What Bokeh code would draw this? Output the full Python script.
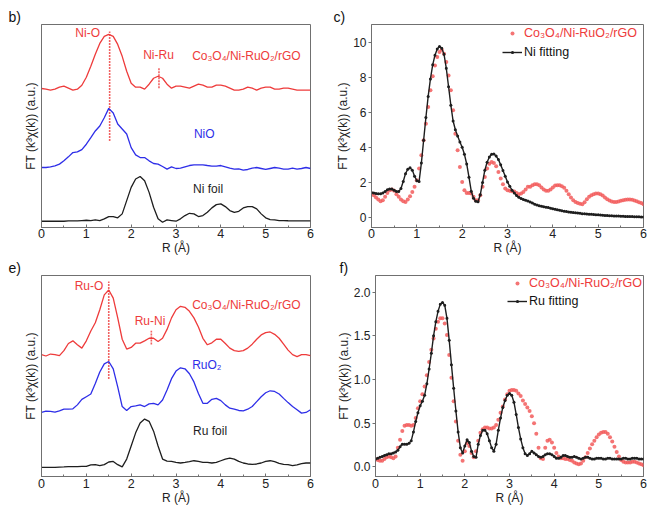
from bokeh.plotting import figure
from bokeh.layouts import row, column
from bokeh.models import Range1d, FixedTicker, Label, Legend, LegendItem, NumeralTickFormatter
from bokeh.embed import file_html
from bokeh.resources import INLINE

# ---------------- data ----------------
r_grid_10 = [round(0.1 * i, 1) for i in range(61)]     # R (Å) 0..6 step 0.1
r_grid_05 = [round(0.05 * i, 2) for i in range(121)]   # R (Å) 0..6 step 0.05

# panel b (Ni K-edge, stacked, a.u.)
ni_composite = [13.97, 13.9, 13.8, 13.9, 14.1, 14.2, 14.0, 13.8, 13.9, 14.3,
                15.1, 16.2, 17.4, 18.5, 19.2, 19.4, 19.2, 18.4, 17.2, 15.7,
                14.5, 14.1, 14.1, 13.9, 14.4, 15.0, 15.2, 15.0, 14.4, 14.0,
                14.2, 14.2, 14.1, 14.0, 14.2, 14.4, 14.3, 14.1, 14.1, 14.3,
                14.3, 14.2, 14.0, 13.8, 13.8, 13.9, 14.1, 14.0, 13.8, 14.0,
                14.1, 14.1, 13.9, 13.9, 14.0, 14.0, 13.9, 13.8, 13.8, 13.8,
                13.8]
nio = [6.03, 6.03, 6.1, 6.2, 6.37, 6.7, 7.1, 7.53, 7.6, 7.83,
       8.37, 9.03, 9.7, 10.2, 11.03, 11.97, 11.5, 10.4, 9.9, 9.4,
       8.03, 7.3, 7.03, 7.03, 6.7, 6.43, 6.37, 6.13, 5.87, 6.1,
       5.93, 5.97, 6.1, 6.23, 6.3, 6.3, 6.3, 6.23, 6.17, 6.17,
       6.23, 6.1, 5.97, 5.87, 5.9, 5.77, 5.83, 5.97, 6.03, 5.93,
       5.83, 5.93, 6.03, 5.97, 5.87, 5.87, 5.97, 5.87, 5.93, 6.03,
       5.93]
ni_foil = [0.63, 0.63, 0.63, 0.63, 0.63, 0.63, 0.67, 0.67, 0.67, 0.70,
           0.73, 0.70, 0.77, 0.70, 0.87, 1.10, 1.10, 0.97, 1.37, 2.70,
           4.03, 4.87, 5.13, 4.70, 3.53, 2.03, 0.87, 0.53, 0.77, 0.70,
           0.63, 0.87, 1.20, 1.43, 1.37, 1.10, 1.20, 1.53, 1.97, 2.30,
           2.37, 2.10, 1.70, 1.53, 1.63, 1.97, 2.10, 2.10, 1.87, 1.37,
           0.97, 0.80, 0.77, 0.70, 0.70, 0.68, 0.67, 0.67, 0.67, 0.67,
           0.67]
b_peak_r = [1.52, 2.62]
b_peak_lo = [8.7, 14.0]
b_peak_hi = [19.7, 16.1]

# panel e (Ru K-edge, stacked, a.u.)
ru_composite = [12.37, 12.23, 12.43, 12.37, 12.27, 12.77, 13.5, 13.77, 13.37, 13.03,
                13.77, 14.77, 15.6, 16.93, 18.43, 18.93, 18.1, 16.1, 13.93, 12.93,
                13.1, 13.53, 13.53, 13.77, 14.03, 14.03, 13.7, 14.03, 14.93, 16.1,
                16.93, 17.27, 17.17, 16.77, 16.1, 15.17, 14.03, 13.37, 13.57, 13.93,
                13.93, 13.5, 13.03, 12.77, 12.7, 12.77, 13.03, 13.43, 13.93, 14.37,
                14.6, 14.67, 14.43, 14.03, 13.43, 12.83, 12.37, 12.17, 12.37, 12.37,
                12.27]
ruo2 = [6.5, 6.63, 6.6, 6.53, 6.67, 6.83, 6.83, 6.87, 7.27, 7.83,
        8.1, 8.37, 9.43, 10.6, 11.43, 11.67, 10.93, 9.1, 7.1, 6.7,
        7.1, 7.17, 7.27, 7.1, 7.37, 7.43, 7.27, 7.77, 8.77, 9.93,
        10.7, 11.03, 10.93, 10.43, 9.6, 8.43, 7.43, 7.43, 7.83, 7.93,
        7.7, 7.27, 6.93, 6.83, 6.7, 6.67, 6.83, 7.1, 7.6, 8.1,
        8.5, 8.7, 8.63, 8.37, 7.93, 7.5, 7.1, 6.77, 6.43, 6.5,
        6.77]
ru_foil = [0.93, 0.93, 0.93, 0.93, 0.95, 0.97, 1.0, 1.0, 1.0, 1.03,
           1.03, 1.17, 1.2, 1.1, 1.2, 1.47, 1.53, 1.2, 0.97, 1.77,
           3.1, 4.43, 5.43, 5.83, 5.6, 4.6, 3.1, 1.77, 1.57, 1.53,
           1.43, 1.37, 1.43, 1.5, 1.6, 1.53, 1.43, 1.43, 1.37, 1.43,
           1.6, 1.77, 1.87, 1.77, 1.53, 1.37, 1.27, 1.23, 1.27, 1.37,
           1.53, 1.6, 1.5, 1.33, 1.23, 1.2, 1.1, 1.17, 1.3, 1.37,
           1.37]
e_peak_r = [1.5, 2.45]
e_peak_lo = [9.9, 13.4]
e_peak_hi = [19.8, 14.8]

# panel c (Ni, data vs fit)
c_data = [1.37, 1.27, 1.14, 1.02, 0.93, 0.99, 1.18, 1.40, 1.56, 1.59,
          1.52, 1.33, 1.18, 1.02, 0.93, 0.89, 1.02, 1.21, 1.46, 1.75,
          2.13, 2.79, 3.55, 4.40, 5.35, 6.30, 7.25, 8.05, 8.67, 9.15,
          9.43, 9.56, 9.34, 8.86, 8.10, 7.25, 6.11, 4.78, 3.83, 2.88,
          2.03, 1.56, 1.40, 1.40, 1.37, 1.18, 0.99, 0.99, 1.27, 1.75,
          2.31, 2.79, 3.07, 3.17, 3.11, 2.92, 2.60, 2.22, 1.90, 1.65,
          1.56, 1.52, 1.50, 1.48, 1.40, 1.33, 1.37, 1.46, 1.59, 1.75,
          1.75, 1.84, 1.90, 1.90, 1.84, 1.71, 1.59, 1.52, 1.52, 1.59,
          1.71, 1.82, 1.84, 1.84, 1.78, 1.69, 1.52, 1.33, 1.14, 0.99,
          0.89, 0.82, 0.78, 0.76, 0.87, 1.04, 1.18, 1.27, 1.33, 1.37,
          1.37, 1.33, 1.25, 1.14, 1.04, 0.97, 0.91, 0.89, 0.89, 0.91,
          0.95, 0.99, 1.01, 1.02, 1.02, 1.01, 0.97, 0.93, 0.87, 0.82,
          0.76]
c_fit = [1.42, 1.40, 1.37, 1.35, 1.35, 1.40, 1.48, 1.58, 1.63, 1.62,
         1.56, 1.48, 1.48, 1.65, 2.05, 2.50, 2.75, 2.83, 2.70, 2.35,
         2.10, 2.05, 3.10, 4.40, 5.70, 6.90, 7.90, 8.70, 9.25, 9.60,
         9.75, 9.65, 9.30, 8.50, 7.45, 6.40, 5.50, 5.00, 4.65, 4.30,
         4.00, 3.60, 3.05, 2.30, 1.50, 1.10, 0.92, 0.90, 1.30, 2.00,
         2.70, 3.15, 3.45, 3.60, 3.62, 3.50, 3.30, 3.00, 2.68, 2.35,
         2.02, 1.78, 1.56, 1.40, 1.25, 1.15, 1.08, 1.03, 0.99, 0.94,
         0.89, 0.82, 0.76, 0.71, 0.67, 0.64, 0.61, 0.59, 0.57, 0.53,
         0.50, 0.47, 0.44, 0.41, 0.39, 0.36, 0.34, 0.32, 0.30, 0.28,
         0.27, 0.25, 0.24, 0.22, 0.21, 0.20, 0.19, 0.18, 0.17, 0.16,
         0.15, 0.14, 0.13, 0.12, 0.11, 0.10, 0.10, 0.09, 0.08, 0.08,
         0.07, 0.07, 0.06, 0.06, 0.05, 0.05, 0.04, 0.04, 0.04, 0.03,
         0.03]

# panel f (Ru, data vs fit)
f_data = [0.09, 0.08, 0.07, 0.07, 0.09, 0.11, 0.12, 0.11, 0.10, 0.12,
          0.22, 0.31, 0.41, 0.47, 0.48, 0.48, 0.47, 0.48, 0.56, 0.67,
          0.75, 0.83, 0.92, 1.05, 1.20, 1.34, 1.47, 1.58, 1.66, 1.70,
          1.70, 1.64, 1.51, 1.28, 1.02, 0.75, 0.52, 0.30, 0.14, 0.07,
          0.18, 0.27, 0.24, 0.16, 0.11, 0.18, 0.30, 0.39, 0.43, 0.45,
          0.45, 0.44, 0.44, 0.45, 0.48, 0.54, 0.62, 0.69, 0.77, 0.83,
          0.87, 0.88, 0.88, 0.87, 0.84, 0.81, 0.76, 0.72, 0.68, 0.64,
          0.58, 0.50, 0.38, 0.22, 0.10, 0.09, 0.22, 0.30, 0.31, 0.28,
          0.22, 0.16, 0.12, 0.10, 0.10, 0.09, 0.09, 0.08, 0.07, 0.05,
          0.04, 0.03, 0.04, 0.07, 0.11, 0.16, 0.21, 0.26, 0.30, 0.34,
          0.37, 0.39, 0.40, 0.40, 0.38, 0.34, 0.29, 0.23, 0.17, 0.12,
          0.08, 0.06, 0.05, 0.05, 0.05, 0.06, 0.06, 0.05, 0.04, 0.03,
          0.02]
f_fit = [0.09, 0.10, 0.11, 0.12, 0.13, 0.14, 0.15, 0.15, 0.16, 0.17,
         0.19, 0.23, 0.26, 0.26, 0.26, 0.27, 0.30, 0.40, 0.52, 0.62,
         0.70, 0.75, 0.82, 0.95, 1.12, 1.30, 1.50, 1.66, 1.78, 1.86,
         1.88, 1.85, 1.70, 1.45, 1.17, 0.90, 0.64, 0.40, 0.22, 0.16,
         0.24, 0.31, 0.28, 0.18, 0.12, 0.11, 0.26, 0.36, 0.42, 0.42,
         0.38, 0.30, 0.22, 0.18, 0.26, 0.42, 0.56, 0.68, 0.76, 0.82,
         0.84, 0.82, 0.74, 0.60, 0.45, 0.32, 0.22, 0.15, 0.13, 0.15,
         0.18, 0.16, 0.14, 0.12, 0.11, 0.12, 0.14, 0.15, 0.15, 0.14,
         0.12, 0.10, 0.10, 0.11, 0.13, 0.13, 0.12, 0.11, 0.11, 0.12,
         0.11, 0.10, 0.09, 0.10, 0.11, 0.11, 0.10, 0.09, 0.09, 0.10,
         0.10, 0.10, 0.09, 0.09, 0.10, 0.10, 0.09, 0.09, 0.09, 0.09,
         0.09, 0.10, 0.10, 0.09, 0.09, 0.10, 0.10, 0.10, 0.09, 0.09,
         0.09]

x_ticks = [0, 1, 2, 3, 4, 5, 6]
x_minor = [0.5, 1.5, 2.5, 3.5, 4.5, 5.5]
c_yticks = [0, 2, 4, 6, 8, 10]
f_yticks = [0.0, 0.5, 1.0, 1.5, 2.0]

# ---------------- styling ----------------
FONT = "Liberation Sans"
RED = "#ee3b3b"
DOT_RED = "#f25c5c"
BLUE = "#2e2ee8"
BLACK = "#1e1e1e"
AXIS = "#707070"
SAMPLE = "Co\u2083O\u2084/Ni-RuO\u2082/rGO"
YLABEL = "FT (k\u00b3\u03c7(k)) (a.u.)"


def base_fig(width, height, yr, borders, yticks, letter, letter_offset, tick_standoff=2):
    left, right, top, bottom = borders
    p = figure(width=width, height=height, x_range=Range1d(0, 6), y_range=Range1d(*yr),
               output_backend="svg", toolbar_location=None,
               min_border_left=left, min_border_right=right,
               min_border_top=top, min_border_bottom=bottom)
    p.title.text = letter
    p.title.align = "left"
    p.title.offset = letter_offset
    p.title.standoff = 0
    p.title.text_font = FONT
    p.title.text_font_size = "14px"
    p.title.text_font_style = "normal"
    p.title.text_color = "#111111"
    p.grid.visible = False
    p.outline_line_color = AXIS
    p.outline_line_width = 1
    p.background_fill_color = "white"
    p.border_fill_color = "white"
    xa = p.xaxis[0]
    xa.ticker = FixedTicker(ticks=x_ticks, minor_ticks=x_minor)
    xa.axis_line_color = AXIS
    xa.major_tick_line_color = AXIS
    xa.minor_tick_line_color = AXIS
    xa.major_tick_in = 3
    xa.major_tick_out = 0
    xa.minor_tick_in = 2
    xa.minor_tick_out = 0
    xa.major_label_standoff = tick_standoff
    xa.major_label_text_font = FONT
    xa.major_label_text_font_size = "12.5px"
    xa.major_label_text_color = "#222222"
    xa.axis_label = "R (\u00c5)"
    xa.axis_label_text_font = FONT
    xa.axis_label_text_font_size = "12px"
    xa.axis_label_text_font_style = "normal"
    xa.axis_label_text_color = "#222222"
    xa.axis_label_standoff = 0
    ya = p.yaxis[0]
    ya.axis_line_color = AXIS
    ya.axis_label = YLABEL
    ya.axis_label_text_font = FONT
    ya.axis_label_text_font_size = "12px"
    ya.axis_label_text_font_style = "normal"
    ya.axis_label_text_color = "#222222"
    ya.minor_tick_line_color = None
    if yticks is None:
        ya.ticker = FixedTicker(ticks=[])
        ya.major_tick_line_color = None
        ya.axis_label_standoff = 4
    else:
        ya.ticker = FixedTicker(ticks=yticks)
        ya.major_tick_line_color = AXIS
        ya.major_tick_in = 0
        ya.major_tick_out = 3
        ya.major_label_standoff = 2
        ya.major_label_text_font = FONT
        ya.major_label_text_font_size = "12px"
        ya.major_label_text_color = "#222222"
        ya.axis_label_standoff = 0
    return p


def note(p, text, x, y, color, align="center"):
    p.add_layout(Label(x=x, y=y, text=text, text_font=FONT, text_font_size="12px",
                       text_color=color, text_align=align, text_baseline="middle"))


def stacked(p, top, mid, bottom, peak_r, lo, hi):
    p.segment(x0=peak_r, y0=lo, x1=peak_r, y1=hi, line_color=RED, line_width=1.6,
              line_dash="2 1", line_alpha=0.8)
    p.line(r_grid_10, top, line_color=RED, line_width=1.3)
    p.line(r_grid_10, mid, line_color=BLUE, line_width=1.3)
    p.line(r_grid_10, bottom, line_color=BLACK, line_width=1.3)


def fitted(p, data, fit, fit_label, legend_x, legend_y1, legend_y2):
    rd = p.scatter(r_grid_05, data, marker="circle", size=4, fill_color=DOT_RED,
                   line_color=None, fill_alpha=0.85)
    fl = p.line(r_grid_05, fit, line_color=BLACK, line_width=1.4)
    fd = p.scatter(r_grid_05, fit, marker="circle", size=3, fill_color=BLACK, line_color=None)
    common = dict(padding=0, margin=0, spacing=0, border_line_alpha=0,
                  background_fill_alpha=0, glyph_width=20, label_height=13,
                  label_standoff=2, label_text_font=FONT, label_text_font_size="12.5px")
    leg1 = Legend(items=[LegendItem(label=SAMPLE, renderers=[rd])], glyph_height=10,
                  location=(legend_x, legend_y1), label_text_color=RED, **common)
    leg2 = Legend(items=[LegendItem(label=fit_label, renderers=[fl, fd])], glyph_height=8,
                  location=(legend_x, legend_y2), label_text_color="#111111", **common)
    p.add_layout(leg1)
    p.add_layout(leg2)


# ---------------- panel b ----------------
pb = base_fig(333, 257, (0, 20.4), (41, 23, 23, 30), None, "b)", -33, 1)
stacked(pb, ni_composite, nio, ni_foil, b_peak_r, b_peak_lo, b_peak_hi)
note(pb, "Ni-O", 1.03, 19.5, RED)
note(pb, "Ni-Ru", 2.61, 17.3, RED)
note(pb, SAMPLE, 3.36, 17.2, RED, "left")
note(pb, "NiO", 3.40, 9.4, BLUE, "left")
note(pb, "Ni foil", 3.38, 3.9, BLACK, "left")

# ---------------- panel c ----------------
pc = base_fig(320, 257, (-0.57, 11.0), (36, 10, 24, 30), c_yticks, "c)", -38, 1)
fitted(pc, c_data, c_fit, "Ni fitting", 131, 187, 168)

# ---------------- panel e ----------------
pe = base_fig(333, 251, (0, 20.4), (41, 23, 16, 31), None, "e)", -33)
stacked(pe, ru_composite, ruo2, ru_foil, e_peak_r, e_peak_lo, e_peak_hi)
note(pe, "Ru-O", 1.06, 19.37, RED)
note(pe, "Ru-Ni", 2.42, 15.83, RED)
note(pe, SAMPLE, 3.36, 17.43, RED, "left")
note(pe, "RuO\u2082", 3.36, 11.27, BLUE, "left")
note(pe, "Ru foil", 3.38, 4.6, BLACK, "left")

# ---------------- panel f ----------------
pf = base_fig(320, 251, (-0.11, 2.19), (36, 10, 16, 32), f_yticks, "f)", -36)
pf.yaxis[0].formatter = NumeralTickFormatter(format="0.0")
fitted(pf, f_data, f_fit, "Ru fitting", 132, 186, 168)

layout = column(row(pb, pc), row(pe, pf))
open("out.html", "w").write(file_html(layout, INLINE, "EXAFS"))
